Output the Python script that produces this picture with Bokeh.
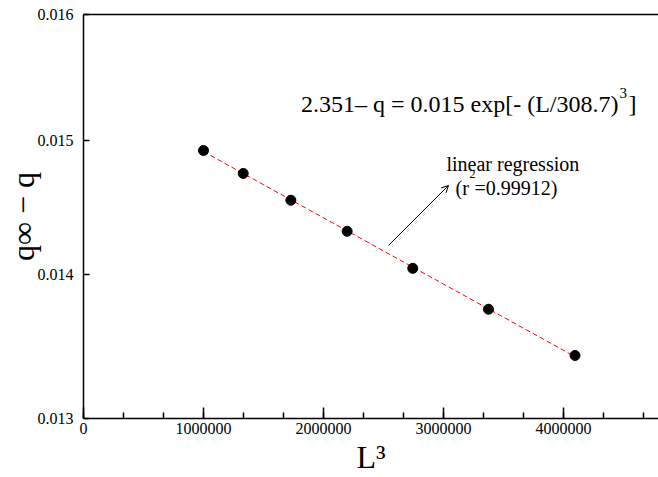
import numpy as np
from bokeh.plotting import figure
from bokeh.models import (FixedTicker, PrintfTickFormatter, LinearAxis, Label, Arrow, OpenHead, Range1d)
from bokeh.embed import file_html
from bokeh.resources import INLINE

# data
L3 = [1000000, 1331000, 1728000, 2197000, 2744000, 3375000, 4096000]
dq = [0.014920, 0.014745, 0.014543, 0.014313, 0.014043, 0.013751, 0.013428]
x_ticks = [0, 1000000, 2000000, 3000000, 4000000]
y_ticks = [0.013, 0.014, 0.015, 0.016]

FONT = "Liberation Serif"

p = figure(width=658, height=477, output_backend="svg", toolbar_location=None,
           y_axis_type="log", x_range=Range1d(0, 4791700), y_range=Range1d(0.013, 0.016),
           min_border_left=83, min_border_right=0, min_border_top=14, min_border_bottom=59)
p.outline_line_color = None
p.grid.visible = False
p.background_fill_color = "white"
p.border_fill_color = "white"

# axes
xa = p.xaxis[0]
xa.ticker = FixedTicker(ticks=x_ticks, minor_ticks=list(np.arange(0, 4800000, 1000000 / 3)))
xa.formatter = PrintfTickFormatter(format="%d")
ya = p.yaxis[0]
ya.ticker = FixedTicker(ticks=y_ticks, minor_ticks=[])
ya.formatter = PrintfTickFormatter(format="%.3f")
for ax in (xa, ya):
    ax.axis_line_width = 1.5
    ax.axis_line_color = "black"
    ax.major_tick_line_width = 1.5
    ax.minor_tick_line_width = 1.5
    ax.major_tick_line_color = "black"
    ax.minor_tick_line_color = "black"
    ax.major_tick_out = 0
    ax.minor_tick_out = 0
    ax.major_label_text_font = FONT
    ax.major_label_text_font_size = "16px"
    ax.major_label_text_color = "black"
    ax.axis_label_text_font = FONT
    ax.axis_label_text_font_size = "32px"
    ax.axis_label_text_font_style = "normal"
    ax.axis_label_text_color = "black"
xa.major_tick_in = 11
xa.minor_tick_in = 6
xa.major_label_standoff = 4
xa.axis_label = "L\u00b3"
xa.axis_label_standoff = 2
ya.major_tick_in = 6
ya.minor_tick_in = 0
ya.major_label_standoff = 10
ya.axis_label = "q\u221e \u2212 q"
ya.axis_label_standoff = -6

top = LinearAxis(ticker=FixedTicker(ticks=[]), axis_line_width=1.5, axis_line_color="black",
                 major_tick_out=0, major_tick_in=0, minor_tick_out=0, minor_tick_in=0,
                 major_label_standoff=0, major_label_text_font_size="0px")
p.add_layout(top, "above")

# regression of log(q_inf - q) on L^3
xs = np.array(L3, dtype=float)
coef = np.polyfit(xs, np.log10(dq), 1)
xl = np.array([xs[0], xs[-1] * 1.01])
yl = 10 ** np.polyval(coef, xl)
p.line(xl, yl, line_color="#ff0000", line_width=1, line_dash="5 3")
p.scatter(L3, dq, size=10, fill_color="black", line_color="black")

def lab(text, sx, sy, size, align="left"):
    p.add_layout(Label(x=sx, y=sy, x_units="screen", y_units="screen", text=text,
                       text_font=FONT, text_font_size=size, text_color="black",
                       text_align=align, text_baseline="alphabetic"))

# frame-relative screen coords: frame left = x 83, frame bottom = y 418
lab("2.351\u2013 q = 0.015 exp[- (L/308.7)", 535, 315, "24px", align="right")
lab("3", 536, 326, "15px")
lab("]", 545, 315, "24px")
lab("linear regression", 363, 255, "20px")
lab("(r", 372, 231, "20px")
lab("2", 386, 245, "12px")
lab("=0.99912)", 391, 231, "20px")
p.add_layout(Arrow(x_start=305, y_start=173, x_end=365, y_end=233,
                   start_units="screen", end_units="screen",
                   line_color="black", line_width=1,
                   end=OpenHead(size=7, line_color="black", line_width=1)))

open("out.html", "w").write(file_html(p, INLINE))
